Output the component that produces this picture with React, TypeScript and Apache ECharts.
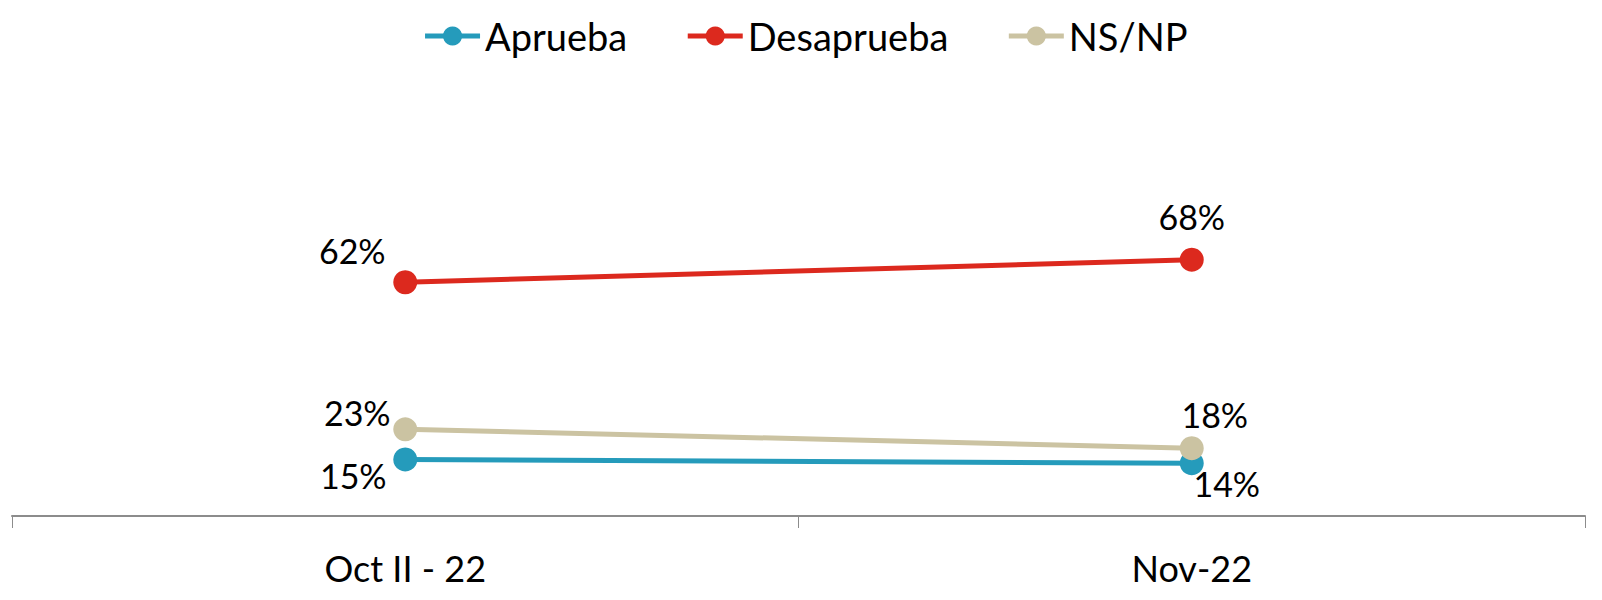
import React, { useEffect, useRef } from "react";
import * as echarts from "echarts";

const categories = ["Oct II - 22", "Nov-22"];
const aprueba = [15, 14];
const desaprueba = [62, 68];
const nsnp = [23, 18];

const apruebaOffsets = [[-52, 16], [35, 20]];
const desapruebaOffsets = [[-53, -32], [0, -43]];
const nsnpOffsets = [[-48, -17], [23, -34]];

const FONT = "Lato";

function mk(name: string, values: number[], color: string, offsets: number[][]) {
  return {
    name,
    type: "line",
    data: values.map((v, i) => ({
      value: v,
      label: { offset: offsets[i] },
    })),
    symbol: "circle",
    symbolSize: 24,
    lineStyle: { color, width: 5 },
    itemStyle: { color },
    label: {
      show: true,
      position: "inside",
      align: "center",
      verticalAlign: "middle",
      formatter: "{c}%",
      color: "#000",
      fontSize: 34,
      fontFamily: FONT,
    },
  };
}

export default function App() {
  const ref = useRef<HTMLDivElement>(null);
  useEffect(() => {
    if (!ref.current) return;
    const chart = echarts.init(ref.current, undefined, { renderer: "svg" });
    chart.setOption({
      animation: false,
      legend: {
        top: 4,
        left: "center",
        itemWidth: 55,
        itemHeight: 24,
        itemGap: 58,
        lineStyle: { width: 5 },
        textStyle: { fontSize: 38, fontFamily: FONT, color: "#000" },
        data: ["Aprueba", "Desaprueba", "NS/NP"],
      },
      grid: { left: 4, right: 17, top: 131, bottom: 84, containLabel: false },
      xAxis: {
        type: "category",
        data: categories,
        axisLine: { lineStyle: { color: "#8c8c8c", width: 2 } },
        axisTick: { show: true, length: 12, lineStyle: { color: "#8c8c8c" } },
        axisLabel: { fontSize: 36, fontFamily: FONT, color: "#000", margin: 34 },
      },
      yAxis: {
        type: "value",
        min: 0,
        max: 100,
        show: false,
        splitLine: { show: false },
      },
      series: [
        mk("Aprueba", aprueba, "#259bbb", apruebaOffsets),
        mk("Desaprueba", desaprueba, "#dc291e", desapruebaOffsets),
        mk("NS/NP", nsnp, "#cbc3a2", nsnpOffsets),
      ],
    });
    return () => chart.dispose();
  }, []);
  return <div ref={ref} style={{ width: 1594, height: 592 }} />;
}
